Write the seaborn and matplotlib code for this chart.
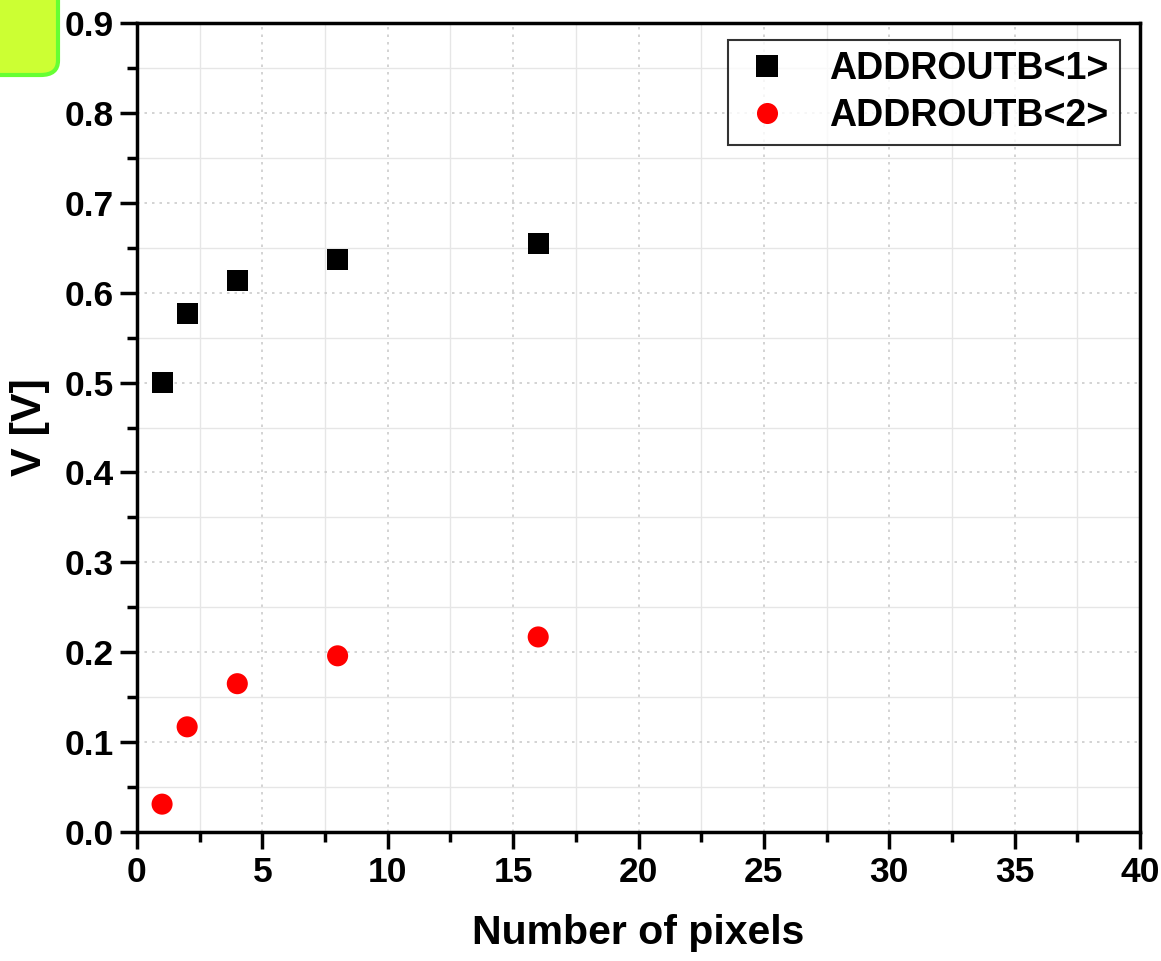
import matplotlib
matplotlib.use("Agg")
import matplotlib.pyplot as plt
import seaborn as sns
import pandas as pd
from matplotlib.patches import FancyBboxPatch
from matplotlib.ticker import MultipleLocator

pixels = [1, 2, 4, 8, 16]
addr1 = [0.500, 0.577, 0.614, 0.637, 0.655]
addr2 = [0.031, 0.117, 0.165, 0.196, 0.217]
series_names = ["ADDROUTB<1>", "ADDROUTB<2>"]

df = pd.DataFrame({
    "x": pixels * 2,
    "y": addr1 + addr2,
    "series": [series_names[0]] * len(pixels) + [series_names[1]] * len(pixels),
})

sns.set_style("white")
plt.rcParams["font.family"] = ["Liberation Sans", "DejaVu Sans"]
plt.rcParams["font.weight"] = "bold"
plt.rcParams["text.color"] = "black"
plt.rcParams["axes.labelcolor"] = "black"
plt.rcParams["xtick.color"] = "black"
plt.rcParams["ytick.color"] = "black"

fig = plt.figure(figsize=(11.61, 9.61), dpi=100)
ax = fig.add_axes([137 / 1161, 1 - 832 / 961, (1140 - 137) / 1161, (832 - 23) / 961])

sns.scatterplot(data=df, x="x", y="y", hue="series", style="series",
                palette={series_names[0]: "black", series_names[1]: "#ff0000"},
                markers={series_names[0]: "s", series_names[1]: "o"},
                s=230, linewidth=0, ax=ax, zorder=3)

ax.set_xlim(0, 40)
ax.set_ylim(0, 0.9)
ax.xaxis.set_major_locator(MultipleLocator(5))
ax.xaxis.set_minor_locator(MultipleLocator(2.5))
ax.yaxis.set_major_locator(MultipleLocator(0.1))
ax.yaxis.set_minor_locator(MultipleLocator(0.05))
ax.yaxis.set_major_formatter(matplotlib.ticker.FormatStrFormatter("%.1f"))

ax.grid(which="major", color="#cccccc", linestyle=(0, (1.5, 3)), linewidth=1.2)
ax.grid(which="minor", color="#e6e6e6", linestyle="-", linewidth=1.0)
ax.set_axisbelow(True)

for s in ax.spines.values():
    s.set_linewidth(2.5)
    s.set_color("black")
ax.tick_params(which="major", direction="out", length=12, width=2.5, labelsize=25.5,
               bottom=True, left=True, top=False, right=False, pad=5,
               colors="black", labelcolor="black")
ax.tick_params(which="minor", direction="out", length=7, width=2.5,
               bottom=True, left=True, top=False, right=False, colors="black")
for lab in ax.get_xticklabels() + ax.get_yticklabels():
    lab.set_fontweight("bold")

ax.set_xlabel("Number of pixels", fontsize=29.5, fontweight="bold", labelpad=18, color="black")
ax.set_ylabel("V [V]", fontsize=31, fontweight="bold", labelpad=10, color="black")

leg = ax.legend(loc="upper right", bbox_to_anchor=(0.98, 0.979), fontsize=27,
                frameon=True, fancybox=False, edgecolor="black", markerscale=1.0,
                handletextpad=0.9, borderpad=0.3, labelspacing=0.28, title=None,
                handlelength=1.5, borderaxespad=0.0)
leg.get_frame().set_linewidth(1.5)
for t in leg.get_texts():
    t.set_fontweight("bold")
    t.set_color("black")

box = FancyBboxPatch((-20 / 1161, 1 - 75 / 961), 78 / 1161, 95 / 961,
                     boxstyle="round,pad=0,rounding_size=0.015",
                     transform=fig.transFigure, facecolor="#ccff33",
                     edgecolor="#66ff33", linewidth=3, clip_on=False)
fig.patches.append(box)

fig.savefig("out.png", dpi=100)
